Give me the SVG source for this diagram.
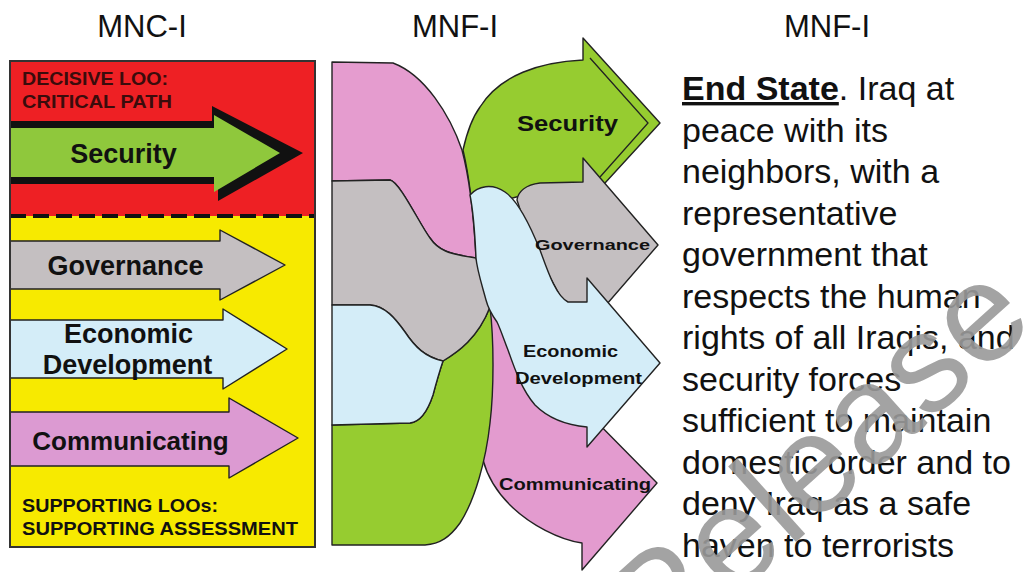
<svg xmlns="http://www.w3.org/2000/svg" width="1023" height="572" viewBox="0 0 1023 572">
<style>
.hdr{font-family:"Liberation Sans",Arial,sans-serif;font-size:31px;fill:#111;text-anchor:middle}
.lb{font-family:"Liberation Sans",Arial,sans-serif;font-weight:bold;fill:#111}
.cap{font-family:"Liberation Sans",Arial,sans-serif;font-weight:bold;font-size:18px}
.ol{stroke:#222;stroke-width:1.4;stroke-linejoin:round}
.body{font-family:"Liberation Sans",Arial,sans-serif;font-size:34px;fill:#111}
</style>
<rect width="1023" height="572" fill="#ffffff"/>
<g id="headers">
<text class="hdr" x="142" y="37">MNC-I</text>
<text class="hdr" x="455" y="37">MNF-I</text>
<text class="hdr" x="827" y="37">MNF-I</text>
</g>
<g id="panel-left">
<rect x="10" y="61" width="305" height="155" fill="#ee2024"/>
<rect x="10" y="216" width="305" height="331" fill="#f7ea00"/>
<line x1="10" y1="216" x2="315" y2="216" stroke="#111" stroke-width="4" stroke-dasharray="16 7"/>
<g id="left-security">
<polygon points="10,121 212,121 212,106 303,153 218,201 218,184 10,184" fill="#111"/>
<polygon points="10,128 214,128 214,115 280,153 214,192 214,177 10,177" fill="#8fc83c"/>
<text class="lb" x="123.5" y="163" font-size="27" text-anchor="middle">Security</text>
</g>
<g id="left-governance">
<polygon class="ol" points="10,241 220,241 220,230 285,265 220,300 220,289 10,289" fill="#c4bfc1"/>
<text class="lb" x="125.5" y="275" font-size="27" text-anchor="middle">Governance</text>
</g>
<g id="left-economic">
<polygon class="ol" points="10,320 223,320 223,309 287,349 223,389 223,378 10,378" fill="#d4edf8"/>
<text class="lb" x="128.5" y="343" font-size="27" text-anchor="middle">Economic</text>
<text class="lb" x="127.5" y="374" font-size="27" text-anchor="middle">Development</text>
</g>
<g id="left-communicating">
<polygon class="ol" points="10,412 229,412 229,398 298,438 229,478 229,466 10,466" fill="#dc9ad2"/>
<text class="lb" x="130.5" y="450" font-size="26" text-anchor="middle">Communicating</text>
</g>
<rect x="10" y="61" width="305" height="486" fill="none" stroke="#333" stroke-width="2"/>
<text class="cap" x="22" y="85" fill="#3a0c0c" textLength="146" lengthAdjust="spacingAndGlyphs">DECISIVE LOO:</text>
<text class="cap" x="22" y="108" fill="#3a0c0c" textLength="150" lengthAdjust="spacingAndGlyphs">CRITICAL PATH</text>
<text class="cap" x="22" y="512" fill="#111" textLength="196" lengthAdjust="spacingAndGlyphs">SUPPORTING LOOs:</text>
<text class="cap" x="22" y="535" fill="#111" textLength="276" lengthAdjust="spacingAndGlyphs">SUPPORTING ASSESSMENT</text>
</g>
<g id="ribbons">
<g id="communicating-ribbon">
<path class="ol" fill="#e39bcf" d="M582,543 L582,570 L657,483 L582,407 L582,422 L545,412 L505,330 L488,300 L470,300 L480,460 L483,460 C487,475 495,490 510,505 C530,525 560,540 582,543 Z"/>
</g>
<g id="security-ribbon">
<path class="ol" fill="#96cc30" d="M583,38 L660,123 L605,183 L560,187 L520,196 L498,202 L490,300 L476,258 C474,220 470,180 463,150 C467,132 472,118 480,107 C500,75 540,62 583,60 Z"/>
<polyline points="590,58 648,123 600,177" fill="none" stroke="#222" stroke-width="1.3"/>
</g>
<g id="green-left">
<path class="ol" fill="#96cc30" d="M332,425 L410,423 C420,422 428,410 433,395 C437,380 440,370 443,361 C458,352 478,338 490,307 C494,340 494,390 490,423 C486,460 475,500 460,523 C450,537 440,544 425,545 L332,545 Z"/>
</g>
<g id="pink-left">
<path class="ol" fill="#e59ccf" d="M332,62 L393,63 C425,75 450,115 462,150 C470,180 474,220 476,258 C448,254 438,250 430,238 C420,225 400,182 390,180 L332,181 Z"/>
</g>
<g id="gray-left">
<path class="ol" fill="#c4bfc1" d="M332,181 L390,180 C400,182 420,225 430,238 C438,250 448,254 476,258 L490,307 C478,338 458,352 443,361 C425,357 415,347 405,332 C395,318 385,306 370,305 L332,305 Z"/>
</g>
<g id="blue-left">
<path class="ol" fill="#d4edf8" d="M332,305 L370,305 C385,306 395,318 405,332 C415,347 425,357 443,361 C440,370 437,380 433,395 C428,410 420,422 410,423 L332,425 Z"/>
</g>
<g id="governance-ribbon">
<path class="ol" fill="#c4bfc1" d="M517,200 C518,192 525,185 540,183 L583,182 L583,158 L658,245 L600,312 L565,305 L530,240 Z"/>
</g>
<g id="economic-ribbon">
<path class="ol" fill="#d4edf8" d="M470,195 C478,186 492,183 505,192 C520,202 532,230 540,250 C548,272 556,296 568,302 L587,302 L587,278 L660,363 L587,447 L587,427 C565,425 548,418 535,405 C522,390 515,370 508,350 C503,337 500,328 497,322 C492,315 488,308 486,300 C482,285 477,270 476,258 C475,235 473,210 470,195 Z"/>
</g>
</g>
<g id="ribbon-labels">
<text class="lb" x="517" y="131" font-size="22" textLength="101" lengthAdjust="spacingAndGlyphs">Security</text>
<text class="lb" x="535" y="250" font-size="15" textLength="115" lengthAdjust="spacingAndGlyphs">Governance</text>
<text class="lb" x="523" y="357" font-size="16" textLength="95" lengthAdjust="spacingAndGlyphs">Economic</text>
<text class="lb" x="515" y="384" font-size="16" textLength="127" lengthAdjust="spacingAndGlyphs">Development</text>
<text class="lb" x="499" y="490" font-size="16" textLength="152" lengthAdjust="spacingAndGlyphs">Communicating</text>
</g>
<g id="end-state">
<text class="body" x="682" y="100"><tspan font-weight="bold" text-decoration="underline">End State</tspan>. Iraq at</text>
<text class="body" x="682" y="141.5">peace with its</text>
<text class="body" x="682" y="183">neighbors, with a</text>
<text class="body" x="682" y="224.5">representative</text>
<text class="body" x="682" y="266">government that</text>
<text class="body" x="682" y="307.5">respects the human</text>
<text class="body" x="682" y="349">rights of all Iraqis, and</text>
<text class="body" x="682" y="390.5">security forces</text>
<text class="body" x="682" y="432">sufficient to maintain</text>
<text class="body" x="682" y="473.5">domestic order and to</text>
<text class="body" x="682" y="515">deny Iraq as a safe</text>
<text class="body" x="682" y="556.5">haven to terrorists</text>
</g>
<g id="watermark">
<text x="0" y="0" transform="translate(656,668) rotate(-42)" font-family="Liberation Sans, Arial, sans-serif" font-size="140" fill="#9a9a9a" opacity="0.9">Release</text>
</g>
</svg>
